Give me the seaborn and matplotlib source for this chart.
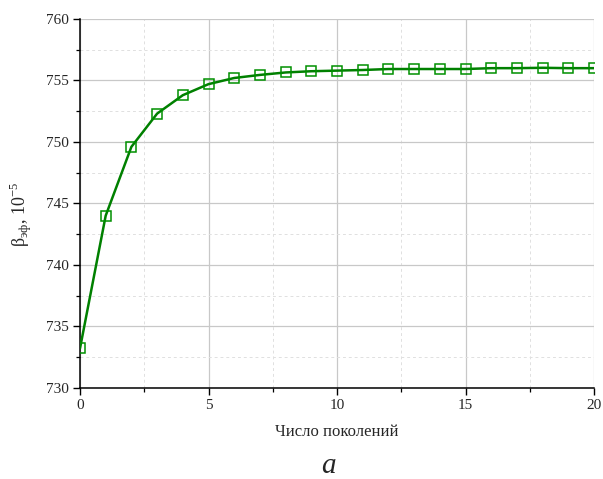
import numpy as np
import pandas as pd
import seaborn as sns
import matplotlib
matplotlib.use("Agg")
import matplotlib.pyplot as plt
from matplotlib.ticker import MultipleLocator

generations = [0, 1, 2, 3, 4, 5, 6, 7, 8, 9, 10, 11, 12, 13, 14, 15, 16, 17, 18, 19, 20]
beta_eff = [733.2, 744.0, 749.6, 752.3, 753.8, 754.7, 755.2, 755.45, 755.65, 755.75,
            755.8, 755.85, 755.93, 755.93, 755.93, 755.93, 756.0, 756.0, 756.03, 756.0, 756.0]
x_label = "Число поколений"
y_label = r"β$_{\mathregular{эф}}$, 10$^{\mathregular{−5}}$"
panel_label = "a"

sns.set_theme(style="white")
plt.rcParams["font.family"] = ["Liberation Serif", "DejaVu Serif"]
plt.rcParams["mathtext.fontset"] = "custom"
plt.rcParams["mathtext.rm"] = "Liberation Serif"

df = pd.DataFrame({"gen": generations, "beta": beta_eff})

fig = plt.figure(figsize=(6.03, 4.79), dpi=100)
ax = fig.add_axes([80 / 603, 1 - 387.7 / 479, 514 / 603, 368.7 / 479])

sns.lineplot(data=df, x="gen", y="beta", ax=ax, color="#008000", linewidth=1.8,
             marker="s", markersize=7, markerfacecolor="none",
             markeredgecolor="#009000", markeredgewidth=1.1, zorder=3)

ax.set_xlim(0, 20)
ax.set_ylim(730, 760)
ax.xaxis.set_major_locator(MultipleLocator(5))
ax.xaxis.set_minor_locator(MultipleLocator(2.5))
ax.yaxis.set_major_locator(MultipleLocator(5))
ax.yaxis.set_minor_locator(MultipleLocator(2.5))

ax.grid(which="major", color="#c8c8c8", linewidth=0.9, linestyle="-")
ax.grid(which="minor", color="#e0e0e0", linewidth=0.7, linestyle=(0, (3, 3)))
ax.set_axisbelow(True)

for s in ["top", "right"]:
    ax.spines[s].set_visible(False)
for s in ["left", "bottom"]:
    ax.spines[s].set_color("black")
    ax.spines[s].set_linewidth(1.1)

ax.tick_params(which="major", direction="out", length=5, width=1, color="black",
               labelsize=11, left=True, bottom=True, pad=3)
ax.tick_params(which="minor", direction="out", length=3, width=0.9, color="black",
               left=True, bottom=True)

ax.set_xlabel(x_label, fontsize=12)
ax.set_ylabel(y_label, fontsize=13)
ax.xaxis.set_label_coords(0.5, -(432 - 387.7) / 368.7)
ax.yaxis.set_label_coords(-(80 - 21) / 514, (387.7 - 214) / 368.7)
ax.xaxis.label.set_va("center")
ax.yaxis.label.set_va("center")

fig.text(328 / 603, 1 - 466 / 479, panel_label, fontsize=21, style="italic",
         ha="center", va="center")

fig.savefig("out.png", dpi=100, facecolor="white")
